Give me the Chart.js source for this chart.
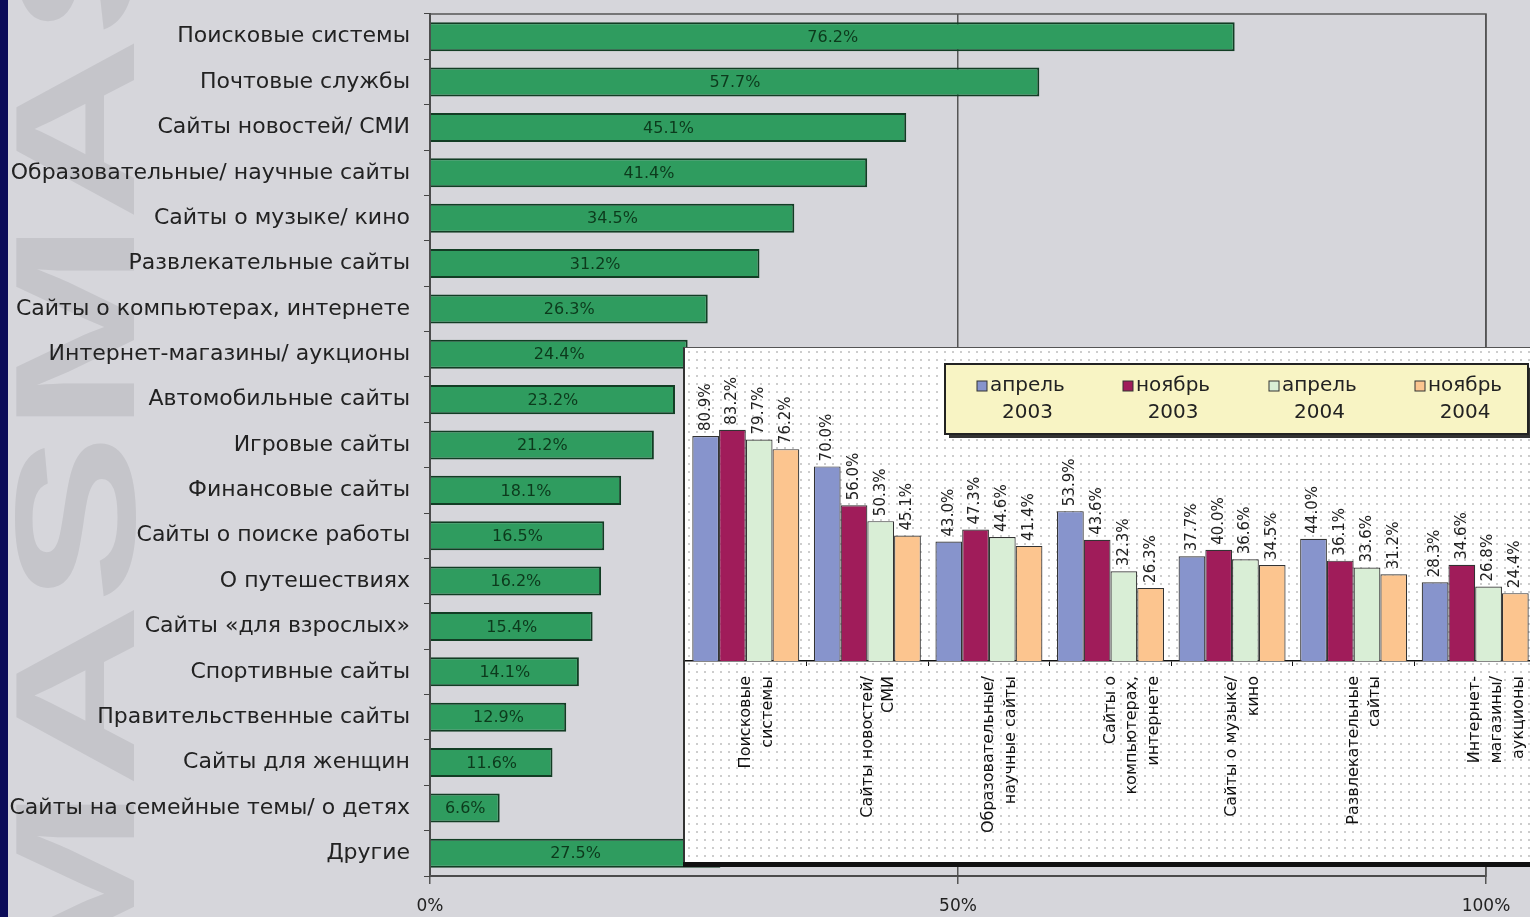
<!DOCTYPE html>
<html lang="ru">
<head>
<meta charset="utf-8">
<script src="https://cdn.jsdelivr.net/npm/chart.js@4.4.1/dist/chart.umd.min.js"></script>
<style>
  html, body { margin: 0; padding: 0; overflow: hidden; }
  body { width: 1530px; height: 917px; background: #d6d6db; position: relative; }
  #strip { position: absolute; left: 0; top: 0; width: 8px; height: 917px; background: #0b0b58; }
  #mark { position: absolute; left: 0; top: 0; transform-origin: 0 0; transform: translate(-23px, 1000px) rotate(-90deg) scaleX(1.5);
          font: bold 170px 'Liberation Sans', Arial, sans-serif; color: #c5c5ca; white-space: nowrap; }
  #main { position: absolute; left: 0; top: 0; width: 1530px; height: 917px; }
  #inset { position: absolute; left: 683px; top: 347px; width: 853px; height: 515px; box-sizing: border-box;
           background-color: #fff; background-image: radial-gradient(#cdcdcd 0.9px, transparent 1.3px); background-size: 8px 8px;
           border-left: 2px solid #333; border-top: 1px solid #555; box-shadow: 0 5px 0 #111; }
</style>
</head>
<body>
<div id="strip"></div>
<div id="mark">MASMAS</div>
<div id="main"><canvas id="share-chart"></canvas></div>
<div id="inset"><canvas id="dynamics-chart"></canvas></div>
<script>
// main chart: share of users by site type
const categories = [
    'Поисковые системы', 'Почтовые службы', 'Сайты новостей/ СМИ', 'Образовательные/ научные сайты',
    'Сайты о музыке/ кино', 'Развлекательные сайты', 'Сайты о компьютерах, интернете',
    'Интернет-магазины/ аукционы', 'Автомобильные сайты', 'Игровые сайты', 'Финансовые сайты',
    'Сайты о поиске работы', 'О путешествиях', 'Сайты «для взрослых»', 'Спортивные сайты',
    'Правительственные сайты', 'Сайты для женщин', 'Сайты на семейные темы/ о детях', 'Другие'
]
const shares = [76.2, 57.7, 45.1, 41.4, 34.5, 31.2, 26.3, 24.4, 23.2, 21.2, 18.1, 16.5, 16.2, 15.4, 14.1, 12.9, 11.6, 6.6, 27.5]
const shareTicks = [0, 50, 100]

// inset: dynamics for the top groups
const groups = [
    ['Поисковые', 'системы'], ['Сайты новостей/', 'СМИ'], ['Образовательные/', 'научные сайты'],
    ['Сайты о', 'компьютерах,', 'интернете'], ['Сайты о музыке/', 'кино'], ['Развлекательные', 'сайты'],
    ['Интернет-', 'магазины/', 'аукционы']
]
const periods = ['апрель 2003', 'ноябрь 2003', 'апрель 2004', 'ноябрь 2004']
const apr2003 = [80.9, 70.0, 43.0, 53.9, 37.7, 44.0, 28.3]
const nov2003 = [83.2, 56.0, 47.3, 43.6, 40.0, 36.1, 34.6]
const apr2004 = [79.7, 50.3, 44.6, 32.3, 36.6, 33.6, 26.8]
const nov2004 = [76.2, 45.1, 41.4, 26.3, 34.5, 31.2, 24.4]
const periodColors = ['#8794cc', '#a01c5a', '#d9eed6', '#fcc58f']

const pct = v => v.toFixed(1) + '%'

const share_chart = () => {
    const ctx = document.getElementById('share-chart')

    const frame = {
        id: 'frame',
        beforeDatasetsDraw(chart) {
            const { ctx, chartArea: a } = chart
            ctx.save()
            ctx.strokeStyle = '#555'
            ctx.lineWidth = 1.5
            ctx.strokeRect(a.left, a.top, a.width, a.height)
            ctx.restore()
        },
    }

    const barLabels = {
        id: 'barLabels',
        afterDatasetsDraw(chart) {
            const { ctx } = chart
            ctx.save()
            ctx.font = '16px "DejaVu Sans"'
            ctx.fillStyle = '#0c3a1c'
            ctx.textAlign = 'center'
            ctx.textBaseline = 'middle'
            chart.getDatasetMeta(0).data.forEach((bar, i) => {
                ctx.fillText(pct(shares[i]), (bar.base + bar.x) / 2, bar.y + 1)
            })
            ctx.restore()
        },
    }

    new Chart(ctx, {
        type: 'bar',
        data: {
            labels: categories,
            datasets: [{
                data: shares,
                backgroundColor: '#2f9c5f',
                borderColor: '#123d24',
                borderWidth: 2,
                barPercentage: 0.64,
                categoryPercentage: 1,
            }],
        },
        options: {
            indexAxis: 'y',
            responsive: true,
            maintainAspectRatio: false,
            animation: false,
            layout: { padding: { top: 14, right: 44, bottom: 0, left: 0 } },
            plugins: { legend: { display: false }, tooltip: { enabled: false } },
            scales: {
                x: {
                    min: 0,
                    max: 100,
                    afterBuildTicks: scale => { scale.ticks = shareTicks.map(v => ({ value: v })) },
                    afterFit: scale => { scale.height = 41 },
                    grid: { color: '#555', lineWidth: 1.5, tickLength: 8 },
                    border: { color: '#333', width: 2 },
                    ticks: {
                        callback: v => v + '%',
                        color: '#222',
                        padding: 12,
                        font: { family: 'DejaVu Sans', size: 17 },
                    },
                },
                y: {
                    afterFit: scale => {
                        scale.width = 430
                        scale.paddingTop = 0
                        scale.paddingBottom = 0
                    },
                    grid: { offset: true, drawOnChartArea: false, tickLength: 6, color: '#444' },
                    border: { color: '#333', width: 2 },
                    ticks: {
                        color: '#222',
                        padding: 14,
                        font: { family: 'DejaVu Sans', size: 22 },
                    },
                },
            },
        },
        plugins: [frame, barLabels],
    })
}

const dynamics_chart = () => {
    const ctx = document.getElementById('dynamics-chart')

    const valueLabels = {
        id: 'valueLabels',
        afterDatasetsDraw(chart) {
            const { ctx } = chart
            ctx.save()
            ctx.font = '15px "DejaVu Sans"'
            ctx.fillStyle = '#222'
            ctx.textAlign = 'left'
            ctx.textBaseline = 'middle'
            chart.data.datasets.forEach((ds, d) => {
                chart.getDatasetMeta(d).data.forEach((bar, i) => {
                    ctx.save()
                    ctx.translate(bar.x, bar.y - 5)
                    ctx.rotate(-Math.PI / 2)
                    ctx.fillText(pct(ds.data[i]), 0, 0)
                    ctx.restore()
                })
            })
            ctx.restore()
        },
    }

    const boxLegend = {
        id: 'boxLegend',
        afterDraw(chart) {
            const { ctx, chartArea: a } = chart
            const w = 583, h = 70
            const x0 = a.right - w - 8, y0 = 16
            ctx.save()
            ctx.fillStyle = '#333'
            ctx.fillRect(x0 + 4, y0 + 4, w, h)
            ctx.fillStyle = '#f8f4c4'
            ctx.fillRect(x0, y0, w, h)
            ctx.strokeStyle = '#222'
            ctx.lineWidth = 2
            ctx.strokeRect(x0, y0, w, h)
            ctx.font = '20px "DejaVu Sans"'
            ctx.textBaseline = 'middle'
            chart.data.datasets.forEach((ds, i) => {
                const sx = x0 + 32 + i * 146
                const [month, year] = ds.label.split(' ')
                ctx.fillStyle = ds.backgroundColor
                ctx.fillRect(sx, y0 + 17, 10, 10)
                ctx.strokeStyle = '#333'
                ctx.lineWidth = 1
                ctx.strokeRect(sx, y0 + 17, 10, 10)
                ctx.fillStyle = '#222'
                ctx.textAlign = 'left'
                ctx.fillText(month, sx + 13, y0 + 22)
                ctx.textAlign = 'center'
                ctx.fillText(year, sx + 13 + ctx.measureText(month).width / 2, y0 + 49)
            })
            ctx.restore()
        },
    }

    const series = [apr2003, nov2003, apr2004, nov2004]

    new Chart(ctx, {
        type: 'bar',
        data: {
            labels: groups,
            datasets: series.map((data, i) => ({
                label: periods[i],
                data: data,
                backgroundColor: periodColors[i],
                borderColor: '#333',
                borderWidth: 1.2,
                barPercentage: 1,
                categoryPercentage: 0.88,
            })),
        },
        options: {
            responsive: true,
            maintainAspectRatio: false,
            animation: false,
            layout: { padding: { top: 35, right: 0, bottom: 0, left: 0 } },
            plugins: { legend: { display: false }, tooltip: { enabled: false } },
            scales: {
                x: {
                    afterFit: scale => {
                        scale.height = 201
                        scale.paddingLeft = 0
                        scale.paddingRight = 0
                    },
                    grid: { offset: true, drawOnChartArea: false, tickLength: 5, color: '#111' },
                    border: { color: '#111', width: 1.5 },
                    ticks: {
                        minRotation: 90,
                        maxRotation: 90,
                        autoSkip: false,
                        padding: 10,
                        color: '#111',
                        font: { family: 'DejaVu Sans', size: 16, lineHeight: 1.35 },
                    },
                },
                y: { display: false, min: 0, max: 100 },
            },
        },
        plugins: [valueLabels, boxLegend],
    })
}

share_chart()
dynamics_chart()
</script>
</body>
</html>
